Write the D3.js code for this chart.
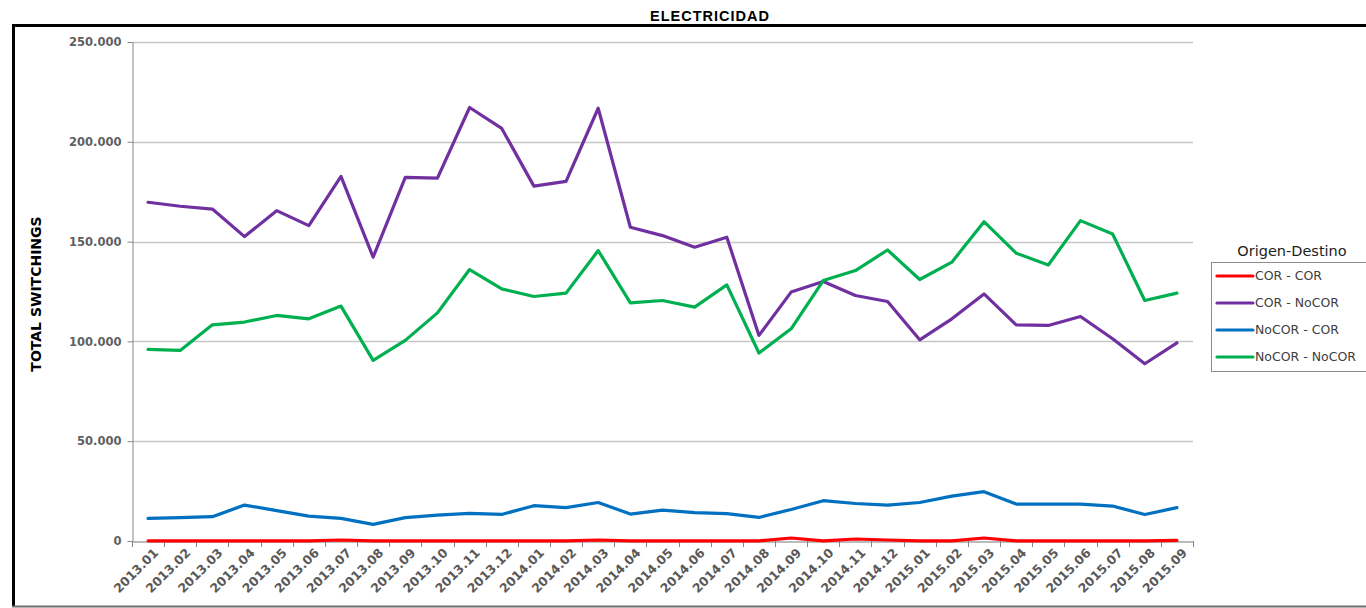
<!DOCTYPE html>
<html><head><meta charset="utf-8">
<script src="https://cdn.jsdelivr.net/npm/d3@7"></script>
<style>body{margin:0;background:#fff;} svg{display:block;}</style>
</head><body>
<svg id="chart" width="1366" height="608"></svg>
<script>
const categories = ["2013.01","2013.02","2013.03","2013.04","2013.05","2013.06","2013.07","2013.08","2013.09","2013.10","2013.11","2013.12",
"2014.01","2014.02","2014.03","2014.04","2014.05","2014.06","2014.07","2014.08","2014.09","2014.10","2014.11","2014.12",
"2015.01","2015.02","2015.03","2015.04","2015.05","2015.06","2015.07","2015.08","2015.09"];
const corCor = [100,100,100,100,100,100,500,100,100,100,100,100,100,100,500,100,100,100,100,100,1500,100,1000,500,100,100,1500,100,100,100,100,100,300];
const corNoCor = [169700,167700,166300,152500,165500,158000,182700,142200,182200,181800,217200,206700,177800,180200,216800,157200,153000,147200,152200,103000,124700,130000,123000,120000,100800,111300,123800,108300,108000,112500,101300,88800,99300];
const noCorCor = [11300,11700,12200,18000,15200,12500,11300,8300,11700,13000,13800,13300,17700,16700,19300,13500,15500,14200,13700,11800,15800,20200,18800,18000,19300,22500,24700,18500,18500,18500,17500,13300,16700];
const noCorNoCor = [96000,95500,108300,109700,113000,111300,117700,90500,100500,114300,136000,126300,122500,124200,145500,119300,120500,117200,128300,94200,106300,130500,135500,145800,131000,139700,160000,144200,138300,160500,153800,120500,124200];
const seriesNames = ["COR - COR","COR - NoCOR","NoCOR - COR","NoCOR - NoCOR"];
const seriesColors = ["#ff0000","#7030a0","#0070c0","#00b050"];
const yTicks = [0,50000,100000,150000,200000,250000];
const title = "ELECTRICIDAD";
const yTitle = "TOTAL SWITCHINGS";
const legendTitle = "Origen-Destino";

const series = [corCor, corNoCor, noCorCor, noCorNoCor].map((v,i)=>({name:seriesNames[i], color:seriesColors[i], values:v}));

const svg = d3.select("#chart");
const font = "'DejaVu Sans', sans-serif";

// frame
svg.append("path").attr("d","M13.5,606 V25.5 H1366").attr("fill","none").attr("stroke","#000").attr("stroke-width",3);
svg.append("line").attr("x1",12).attr("x2",1366).attr("y1",606.5).attr("y2",606.5).attr("stroke","#6e6e6e").attr("stroke-width",2);
svg.append("text").attr("x",710).attr("y",21).attr("text-anchor","middle")
  .attr("font-family","'Liberation Sans', Arial, sans-serif").attr("font-weight","bold").attr("font-size",14.5)
  .attr("letter-spacing",1).attr("fill","#000").text(title);

const x0 = 132, x1 = 1193, yTop = 42, yBot = 541;
const x = d3.scaleBand().domain(categories).range([x0,x1]);
const y = d3.scaleLinear().domain([0,250000]).range([yBot,yTop]);
const fmt = d => d3.format(",")(d).replace(/,/g,".");

// gridlines
svg.append("g").selectAll("line").data(yTicks.filter(d=>d>0)).join("line")
  .attr("x1",x0).attr("x2",x1).attr("y1",d=>Math.round(y(d))+0.5).attr("y2",d=>Math.round(y(d))+0.5)
  .attr("stroke","#c6c6c6").attr("stroke-width",1.5);

// y axis
const yAxis = svg.append("g").attr("transform",`translate(${x0+0.5},0)`)
  .call(d3.axisLeft(y).tickValues(yTicks).tickFormat(fmt).tickSize(5).tickSizeOuter(0));
yAxis.select(".domain").attr("stroke","#868686");
yAxis.selectAll(".tick line").attr("stroke","#868686");
yAxis.selectAll(".tick text").attr("font-family",font).attr("font-size",11.5).attr("font-weight",700)
  .attr("fill","#606060").attr("x",-11);

// x axis
const xAxis = svg.append("g").attr("transform",`translate(0,${yBot+0.5})`)
  .call(d3.axisBottom(x).tickSize(0).tickSizeOuter(0));
xAxis.select(".domain").attr("stroke","#a6a6a6").attr("stroke-width",1.5);
xAxis.selectAll(".tick text").attr("font-family",font).attr("font-size",12.5).attr("font-weight",700)
  .attr("fill","#595959").attr("text-anchor","end")
  .attr("transform","translate(8,9) rotate(-45)").attr("dy","0.35em").attr("x",0).attr("y",0);
// tick marks between categories
const bounds = categories.map(c=>x(c)).concat([x1]);
svg.append("g").selectAll("line").data(bounds).join("line")
  .attr("x1",d=>Math.round(d)+0.5).attr("x2",d=>Math.round(d)+0.5).attr("y1",yBot).attr("y2",yBot+6)
  .attr("stroke","#868686");

// y title
svg.append("text").attr("transform","translate(41,294) rotate(-90)").attr("text-anchor","middle")
  .attr("font-family",font).attr("font-size",14).attr("font-weight",700).attr("fill","#000").text(yTitle);

// lines
const line = d3.line().x((d,i)=>x(categories[i])+x.bandwidth()/2).y(d=>y(d));
svg.append("g").selectAll("path").data(series).join("path")
  .attr("d",s=>line(s.values)).attr("fill","none").attr("stroke",s=>s.color)
  .attr("stroke-width",3.2).attr("stroke-linejoin","round").attr("stroke-linecap","round");

// legend
svg.append("text").attr("x",1292).attr("y",256).attr("text-anchor","middle")
  .attr("font-family",font).attr("font-size",14.5).attr("fill","#222").text(legendTitle);
svg.append("rect").attr("x",1211.5).attr("y",262.5).attr("width",160).attr("height",109)
  .attr("fill","#fff").attr("stroke","#8c8c8c").attr("stroke-width",1);
const lg = svg.append("g").selectAll("g").data(series).join("g")
  .attr("transform",(d,i)=>`translate(1217,${276+i*27})`);
lg.append("line").attr("x1",0).attr("x2",36).attr("y1",0).attr("y2",0)
  .attr("stroke",d=>d.color).attr("stroke-width",3.2).attr("stroke-linecap","round");
lg.append("text").attr("x",38).attr("y",0).attr("dy","0.35em").attr("font-family",font).attr("font-size",12.5)
  .attr("fill","#404040").text(d=>d.name);
</script>
</body></html>
